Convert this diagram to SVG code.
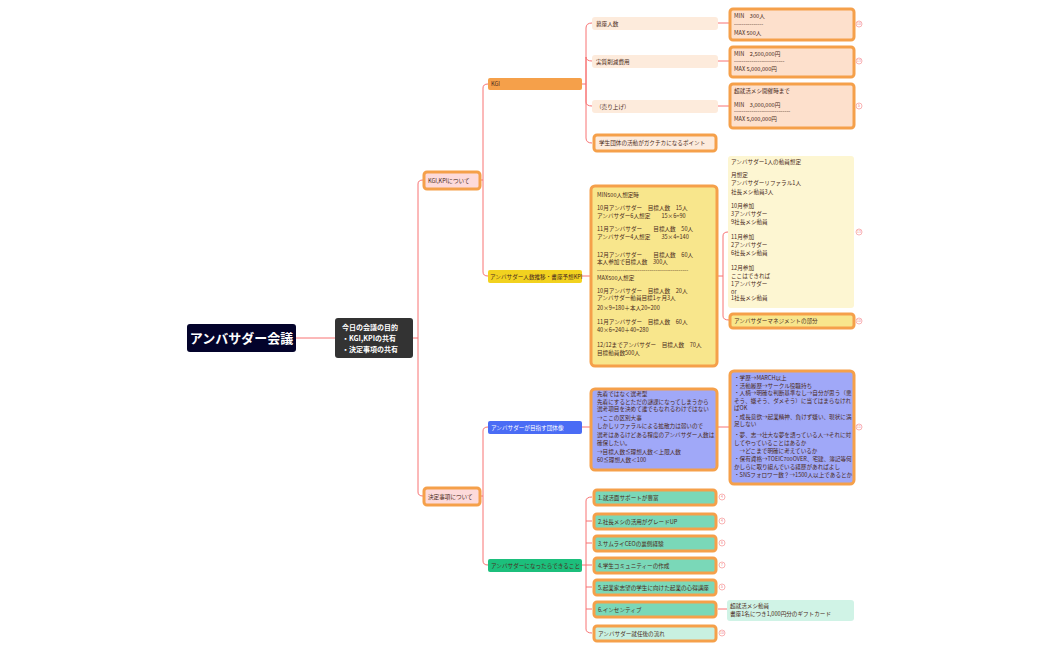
<svg xmlns="http://www.w3.org/2000/svg" width="1050" height="650" viewBox="0 0 1050 650">
<style>
text{font-family:"Noto Sans CJK JP","Noto Sans",sans-serif;fill:#4a2a20;font-size:5.6px}
.c{fill:none;stroke:#f87272;stroke-width:1}
.ob{stroke:#f5a04a;stroke-width:3}
.num{fill:#fff;stroke:#f8a0a0;stroke-width:0.8}
.nt{fill:#f08080;font-size:3.5px;text-anchor:middle}
.w{fill:#fff;font-weight:bold}
</style>
<rect width="1050" height="650" fill="#fff"/>
<g id="connectors">
<path class="c" d="M296 338H335"/>
<path class="c" d="M413 338H418M418 338V184Q418 180 423 180M418 338V492Q418 496 423 496"/>
<path class="c" d="M480 180H483M483 180V88Q483 84 488 84M483 180V272Q483 276 488 276"/>
<path class="c" d="M480 496H483M483 496V431Q483 427 488 427M483 496V561Q483 565 488 565"/>
<path class="c" d="M582 84H586M586 84V28Q586 23 592 23M586 84V57Q586 61 592 61M586 84V102Q586 106 592 106M586 84V138Q586 143 592 143"/>
<path class="c" d="M718 23H729M718 61H729M718 106H729"/>
<path class="c" d="M582 276H590M718 276H723M723 276V236Q723 232 728 232M723 276V316Q723 320 729 320"/>
<path class="c" d="M582 427H590M718 427H729"/>
<path class="c" d="M582 565H586M586 565V501Q586 497 592 497M586 521H592M586 543H592M586 565H592M586 587H592M586 609H592M586 565V629Q586 633 592 633"/>
<path class="c" d="M718 609H727"/>
</g>
<g id="root"><rect x="187" y="324" width="109" height="28" rx="3" fill="#03032b"/><text x="241.5" y="343" class="w" style="font-size:13px;text-anchor:middle">アンバサダー会議</text></g>
<g id="purpose"><rect x="335" y="318" width="78" height="40" rx="3" fill="#333"/>
<text x="342" y="330" class="w" style="font-size:7px">今日の会議の目的</text>
<text x="342" y="341" class="w" style="font-size:7px">・KGI,KPIの共有</text>
<text x="342" y="352" class="w" style="font-size:7px">・決定事項の共有</text></g>
<g id="kgikpi"><rect x="424" y="172" width="56" height="17" rx="3" fill="#fddada" class="ob"/><text x="428" y="182.5">KGI,KPIについて</text></g>
<g id="kettei"><rect x="424" y="488" width="56" height="17" rx="3" fill="#fddada" class="ob"/><text x="428" y="498.5">決定事項について</text></g>
<g id="kgi"><rect x="488" y="78" width="94" height="12" rx="2" fill="#f5a04a"/><text x="491" y="86">KGI</text></g>
<g id="kpi"><rect x="488" y="270" width="94" height="13" rx="2" fill="#f2d21f"/><text x="490" y="278.5">アンバサダー人数推移・書座予想KPI</text></g>
<g id="mezasu"><rect x="488" y="421" width="94" height="13" rx="2" fill="#4a6cf5"/><text x="491" y="429.5" style="fill:#fff">アンバサダーが目指す団体像</text></g>
<g id="dekiru"><rect x="488" y="559" width="94" height="13" rx="2" fill="#1cbf7c"/><text x="491" y="567.5">アンバサダーになったらできること</text></g>

<g id="n-boza"><rect x="592" y="17" width="126" height="13" rx="3" fill="#fdebdc"/><text x="596" y="25.5">募座人数</text></g>
<g id="n-sakugen"><rect x="592" y="55" width="126" height="13" rx="3" fill="#fdebdc"/><text x="596" y="63.5">実質削減費用</text></g>
<g id="n-uriage"><rect x="592" y="100" width="126" height="13" rx="3" fill="#fdebdc"/><text x="596" y="108.5">（売り上げ）</text></g>
<g id="n-point"><rect x="594" y="135" width="122" height="16" rx="3" fill="#fdebdc" class="ob"/><text x="599" y="145">学生団体の活動がガクチカになるポイント</text></g>

<g id="r1"><rect x="730" y="9" width="124" height="31" rx="3" fill="#fde0cc" class="ob"/><text x="734" y="18">MIN　300人</text><text x="734" y="26">---------------</text><text x="734" y="35">MAX 500人</text></g>
<g id="r2"><rect x="730" y="47" width="124" height="30" rx="3" fill="#fde0cc" class="ob"/><text x="734" y="56">MIN　2,500,000円</text><text x="734" y="63">--------------------------</text><text x="734" y="71">MAX 5,000,000円</text></g>
<g id="r3"><rect x="730" y="84" width="124" height="44" rx="3" fill="#fde0cc" class="ob"/><text x="734" y="93">超就活メシ開催時まで</text><text x="734" y="107">MIN　3,000,000円</text><text x="734" y="113">-----------------------------</text><text x="734" y="121">MAX 5,000,000円</text></g>

<g id="kpibox"><rect x="591" y="186" width="126" height="180" rx="4" fill="#f8e68c" class="ob"/>
<text x="597" y="197">MIN500人想定時</text>
<text x="597" y="210">10月アンバサダー　目標人数　15人</text>
<text x="597" y="218">アンバサダー6人想定　　15×6=90</text>
<text x="597" y="231">11月アンバサダー　　目標人数　50人</text>
<text x="597" y="239">アンバサダー4人想定　　35×4=140</text>
<text x="597" y="257">12月アンバサダー　　目標人数　60人</text>
<text x="597" y="264">本人参加で目標人数　300人</text>
<text x="597" y="272">-----------------------------------------------</text>
<text x="597" y="280">MAX500人想定</text>
<text x="597" y="293">10月アンバサダー　目標人数　20人</text>
<text x="597" y="300">アンバサダー動員目標1ヶ月3人</text>
<text x="597" y="310">20×9=180＋本人20=200</text>
<text x="597" y="324">11月アンバサダー　目標人数　60人</text>
<text x="597" y="332">40×6=240＋40=280</text>
<text x="597" y="347">12/12までアンバサダー　目標人数　70人</text>
<text x="597" y="355">目標動員数500人</text></g>

<g id="note1"><rect x="728" y="156" width="126" height="152" rx="3" fill="#fdf6d2"/>
<text x="731" y="164">アンバサダー1人の動員想定</text>
<text x="731" y="177">月想定</text>
<text x="731" y="185">アンバサダーリファラル1人</text>
<text x="731" y="194">社長メシ動員3人</text>
<text x="731" y="208">10月参加</text>
<text x="731" y="216">3アンバサダー</text>
<text x="731" y="224">9社長メシ動員</text>
<text x="731" y="239">11月参加</text>
<text x="731" y="247">2アンバサダー</text>
<text x="731" y="255">6社長メシ動員</text>
<text x="731" y="270">12月参加</text>
<text x="731" y="278">ここはできれば</text>
<text x="731" y="286">1アンバサダー</text>
<text x="731" y="294">or</text>
<text x="731" y="300">1社長メシ動員</text></g>
<g id="mgmt"><rect x="730" y="314" width="124" height="14" rx="3" fill="#f8e68c" class="ob"/><text x="734" y="323">アンバサダーマネジメントの部分</text></g>

<g id="bluebox"><rect x="591" y="389" width="126" height="81" rx="4" fill="#a0a8f8" class="ob"/>
<text x="597" y="396">先着ではなく選考型</text>
<text x="597" y="404">先着にするとただの謎課になってしまうから</text>
<text x="597" y="411">選考項目を決めて誰でもなれるわけではない</text>
<text x="597" y="420">→ここの区別大事</text>
<text x="597" y="428">しかしリファラルによる拡散力は弱いので</text>
<text x="597" y="437">選考はあるけどある程度のアンバサダー人数は</text>
<text x="597" y="445">確保したい。</text>
<text x="597" y="454">→目標人数≦理想人数＜上限人数</text>
<text x="597" y="462">60≦理想人数＜100</text></g>
<g id="bluebox2"><rect x="730" y="371" width="124" height="113" rx="4" fill="#a0a8f8" class="ob"/>
<text x="734" y="380">・学歴→MARCH以上</text>
<text x="734" y="388">・活動履歴→サークル役職持ち</text>
<text x="734" y="395">・人柄→明確な判断基準なし→自分が思う（悪</text>
<text x="734" y="403">そう、嫌そう、ダメそう）に当てはまらなけれ</text>
<text x="734" y="410">ばOK</text>
<text x="734" y="419">・成長意欲→起業精神、負けず嫌い、現状に満</text>
<text x="734" y="426">足しない</text>
<text x="734" y="437">・夢、志→壮大な夢を語っている人→それに対</text>
<text x="734" y="445">してやっていることはあるか</text>
<text x="734" y="453">　→どこまで明確に考えているか</text>
<text x="734" y="461">・保有資格→TOEIC700OVER、宅建、簿記等何</text>
<text x="734" y="469">かしらに取り組んでいる経歴があればよし</text>
<text x="734" y="477">・SNSフォロワー数？→1500人以上であるとか</text></g>

<g id="g1"><rect x="594" y="490" width="122" height="15" rx="3" fill="#7ad8b8" class="ob"/><text x="598" y="499.5">1.就活面サポートが豊富</text></g>
<g id="g2"><rect x="594" y="514" width="122" height="15" rx="3" fill="#7ad8b8" class="ob"/><text x="598" y="523.5">2.社長メシの活用がグレードUP</text></g>
<g id="g3"><rect x="594" y="536" width="122" height="15" rx="3" fill="#7ad8b8" class="ob"/><text x="598" y="545.5">3.サムライCEOの裏側経験</text></g>
<g id="g4"><rect x="594" y="558" width="122" height="15" rx="3" fill="#7ad8b8" class="ob"/><text x="598" y="567.5">4.学生コミュニティーの作成</text></g>
<g id="g5"><rect x="594" y="580" width="122" height="15" rx="3" fill="#7ad8b8" class="ob"/><text x="598" y="589.5">5.起業家志望の学生に向けた起業の心得講座</text></g>
<g id="g6"><rect x="594" y="602" width="122" height="15" rx="3" fill="#7ad8b8" class="ob"/><text x="598" y="611.5">6.インセンティブ</text></g>
<g id="g7"><rect x="594" y="626" width="122" height="15" rx="3" fill="#c8f0e0" class="ob"/><text x="598" y="635.5">アンバサダー就任後の流れ</text></g>
<g id="incent"><rect x="727" y="600" width="127" height="21" rx="3" fill="#d0f3e6"/><text x="730" y="608">超就活メシ動員</text><text x="730" y="616">書座1名につき1,000円分のギフトカード</text></g>

<g id="badges">
<circle class="num" cx="859" cy="24" r="3"/><text class="nt" x="859" y="25.3">10</text>
<circle class="num" cx="859" cy="61" r="3"/><text class="nt" x="859" y="62.3">13</text>
<circle class="num" cx="859" cy="106" r="3"/><text class="nt" x="859" y="107.3">5</text>
<circle class="num" cx="859" cy="232" r="3"/><text class="nt" x="859" y="233.3">13</text>
<circle class="num" cx="859" cy="321" r="3"/><text class="nt" x="859" y="322.3">10</text>
<circle class="num" cx="859" cy="427" r="3"/><text class="nt" x="859" y="428.3">11</text>
<circle class="num" cx="722" cy="497" r="3"/><text class="nt" x="722" y="498.3">4</text>
<circle class="num" cx="722" cy="521" r="3"/><text class="nt" x="722" y="522.3">4</text>
<circle class="num" cx="722" cy="543" r="3"/><text class="nt" x="722" y="544.3">6</text>
<circle class="num" cx="722" cy="565" r="3"/><text class="nt" x="722" y="566.3">7</text>
<circle class="num" cx="722" cy="587" r="3"/><text class="nt" x="722" y="588.3">5</text>
<circle class="num" cx="722" cy="633" r="3"/><text class="nt" x="722" y="634.3">10</text>
</g>
</svg>
